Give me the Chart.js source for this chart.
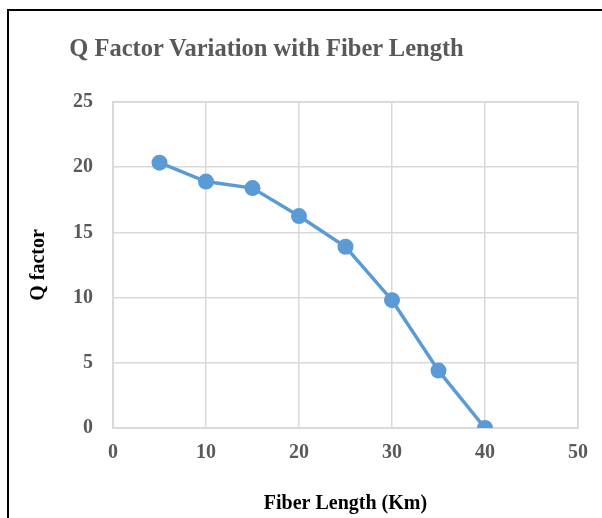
<!DOCTYPE html>
<html>
<head>
<meta charset="utf-8">
<script src="https://cdn.jsdelivr.net/npm/chart.js@4.4.1/dist/chart.umd.min.js"></script>
<style>
  html, body { margin: 0; padding: 0; background: #fff; overflow: hidden; }
  #wrap { position: relative; width: 602px; height: 518px; }
  #frame { position: absolute; left: 7px; top: 9px; width: 700px; height: 600px; border: 2px solid #000; box-sizing: border-box; }
  #title { position: absolute; left: 0; width: 533px; top: 34px; text-align: center;
           font: bold 24.5px "Liberation Serif", "Times New Roman", serif; color: #595959; }
  canvas { position: absolute; left: 0; top: 0; }
</style>
</head>
<body>
<div id="wrap">
  <div id="frame"></div>
  <canvas id="chart" width="602" height="518"></canvas>
  <div id="title">Q Factor Variation with Fiber Length</div>
</div>
<script>
// Data
const fiberLength = [5, 10, 15, 20, 25, 30, 35, 40];
const qFactor = [20.35, 18.9, 18.4, 16.25, 13.9, 9.8, 4.4, 0];
const xTicks = [0, 10, 20, 30, 40, 50];
const yTicks = [0, 5, 10, 15, 20, 25];

const serif = '"Liberation Serif", "Times New Roman", serif';

// Build the chart
function renderChart() {
    const ctx = document.getElementById('chart').getContext('2d');
    const points = fiberLength.map((x, i) => ({ x: x, y: qFactor[i] }));

    new Chart(ctx, {
        type: 'line',
        data: {
            datasets: [{
                label: 'Q factor',
                data: points,
                borderColor: '#5B9BD5',
                backgroundColor: '#5B9BD5',
                borderWidth: 3.5,
                pointRadius: 8,
                pointHoverRadius: 8,
                pointBorderWidth: 0,
                tension: 0,
                fill: false
            }]
        },
        options: {
            responsive: false,
            animation: false,
            layout: { padding: { left: 27, right: 24, top: 102, bottom: 2 } },
            plugins: {
                legend: { display: false },
                tooltip: { enabled: false }
            },
            scales: {
                x: {
                    type: 'linear',
                    min: xTicks[0],
                    max: xTicks[xTicks.length - 1],
                    afterBuildTicks: axis => { axis.ticks = xTicks.map(v => ({ value: v })); },
                    grid: { color: '#d9d9d9', lineWidth: 1.5, drawTicks: false },
                    border: { color: '#d9d9d9', width: 1.5 },
                    ticks: {
                        padding: 13,
                        color: '#595959',
                        font: { family: serif, size: 20, weight: 'bold' }
                    },
                    title: {
                        display: true,
                        text: 'Fiber Length (Km)',
                        color: '#000',
                        font: { family: serif, size: 20, weight: 'bold' },
                        padding: { top: 14, bottom: 0 }
                    }
                },
                y: {
                    min: yTicks[0],
                    max: yTicks[yTicks.length - 1],
                    afterBuildTicks: axis => { axis.ticks = yTicks.map(v => ({ value: v })); },
                    grid: { color: '#d9d9d9', lineWidth: 1.5, drawTicks: false },
                    border: { color: '#d9d9d9', width: 1.5 },
                    ticks: {
                        padding: 20,
                        color: '#595959',
                        font: { family: serif, size: 20, weight: 'bold' }
                    },
                    title: {
                        display: true,
                        text: 'Q factor',
                        color: '#000',
                        font: { family: serif, size: 20, weight: 'bold' },
                        padding: { top: 0, bottom: 2 }
                    }
                }
            }
        },
        plugins: [{
            // right edge of the plot area is framed like the gridlines
            id: 'plotFrame',
            beforeDatasetsDraw(chart) {
                const a = chart.chartArea;
                const c = chart.ctx;
                c.save();
                c.strokeStyle = '#d9d9d9';
                c.lineWidth = 1.5;
                c.strokeRect(a.left, a.top, a.right - a.left, a.bottom - a.top);
                c.restore();
            }
        }]
    });
}

renderChart();
</script>
</body>
</html>
